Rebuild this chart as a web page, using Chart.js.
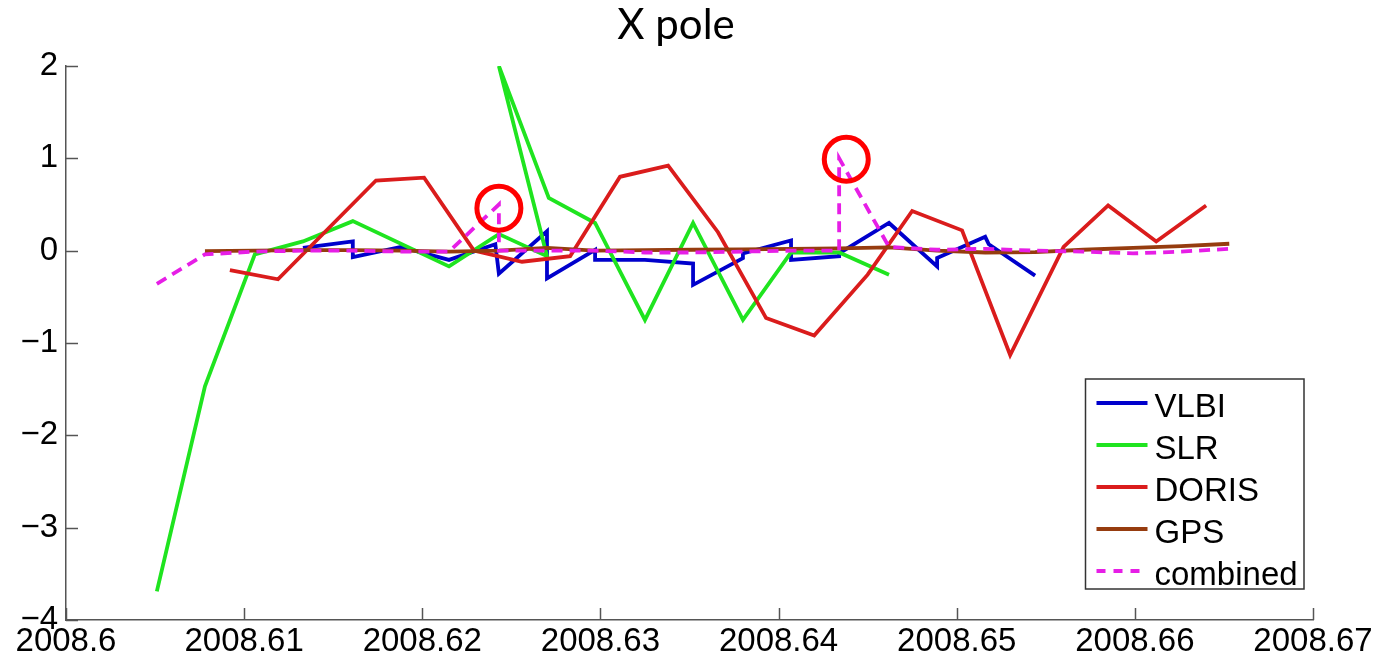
<!DOCTYPE html>
<html>
<head>
<meta charset="utf-8">
<script src="https://cdn.jsdelivr.net/npm/chart.js@4.4.1/dist/chart.umd.min.js"></script>
<style>
  html, body { margin: 0; padding: 0; background: #fff; overflow: hidden; }
</style>
</head>
<body>
<canvas id="c" width="1386" height="663"></canvas>
<script>
// Epochs are decimal years; several techniques deliver two values per day.
const vlbiT = [2008.6133, 2008.6161, 2008.6161, 2008.6188, 2008.6215, 2008.6241, 2008.6243, 2008.6270, 2008.6270,
               2008.6297, 2008.6297, 2008.6325, 2008.6352, 2008.6352, 2008.6380, 2008.6380, 2008.6407, 2008.6407,
               2008.6434, 2008.6434, 2008.6462, 2008.6489, 2008.6489, 2008.6516, 2008.6518, 2008.6544];
const vlbiY = [0.03, 0.10, -0.07, 0.04, -0.10, 0.07, -0.25, 0.21, -0.30,
               0.01, -0.10, -0.10, -0.14, -0.37, -0.08, -0.03, 0.11, -0.10,
               -0.06, -0.03, 0.30, -0.17, -0.08, 0.15, 0.07, -0.27];

const slrT = [2008.6051, 2008.6078, 2008.6106, 2008.6133, 2008.6161, 2008.6215, 2008.6243, 2008.6270, 2008.6243,
              2008.6271, 2008.6297, 2008.6325, 2008.6352, 2008.6380, 2008.6407, 2008.6434, 2008.6462];
const slrY = [-3.69, -1.47, -0.04, 0.10, 0.32, -0.17, 0.18, -0.06, 2.00,
              0.57, 0.30, -0.75, 0.30, -0.75, -0.02, -0.02, -0.26];

const dorisT = [2008.6092, 2008.6119, 2008.6174, 2008.6201, 2008.6229, 2008.6256, 2008.6283, 2008.6311, 2008.6338,
                2008.6366, 2008.6393, 2008.6420, 2008.6450, 2008.6475, 2008.6503, 2008.6530, 2008.6560, 2008.6585,
                2008.6612, 2008.6640];
const dorisY = [-0.21, -0.31, 0.76, 0.79, 0.00, -0.12, -0.06, 0.80, 0.92,
                0.20, -0.73, -0.92, -0.26, 0.43, 0.22, -1.13, 0.04, 0.49,
                0.10, 0.49];

const gpsT = [2008.6078, 2008.6106, 2008.6133, 2008.6161, 2008.6188, 2008.6215, 2008.6243, 2008.6270, 2008.6297,
              2008.6325, 2008.6352, 2008.6380, 2008.6407, 2008.6434, 2008.6462, 2008.6489, 2008.6516, 2008.6544,
              2008.6571, 2008.6599, 2008.6626, 2008.6653];
const gpsY = [-0.005, 0.00, 0.005, 0.005, 0.00, -0.01, 0.00, 0.03, 0.00,
              0.005, 0.01, 0.015, 0.02, 0.025, 0.035, 0.00, -0.02, -0.015,
              0.01, 0.03, 0.05, 0.075];

const combT = [2008.6051, 2008.6078, 2008.6106, 2008.6133, 2008.6161, 2008.6188, 2008.6215, 2008.6243, 2008.6243,
               2008.6270, 2008.6297, 2008.6325, 2008.6352, 2008.6380, 2008.6407, 2008.6434, 2008.6434, 2008.6462,
               2008.6489, 2008.6516, 2008.6544, 2008.6571, 2008.6599, 2008.6626, 2008.6653];
const combY = [-0.36, -0.04, -0.01, 0.00, 0.00, -0.01, -0.01, 0.50, 0.00,
               0.00, 0.00, -0.02, -0.02, -0.01, 0.00, 0.00, 1.00, 0.04,
               0.01, 0.02, 0.00, -0.01, -0.03, -0.01, 0.02];

// Outliers of the combined solution marked with rings
const ringT = [2008.6243, 2008.6438];
const ringY = [0.46, 0.99];

const xTicks = [2008.60, 2008.61, 2008.62, 2008.63, 2008.64, 2008.65, 2008.66, 2008.67];
const yTicks = [-4, -3, -2, -1, 0, 1, 2];

const pts = (t, v) => t.map((x, i) => ({ x, y: v[i] }));

const series = (label, t, v, color, order, dash) => ({
  label, data: pts(t, v), borderColor: color, backgroundColor: color,
  borderWidth: 3.8, pointRadius: 0, tension: 0, order, borderDash: dash || [],
  borderJoinStyle: 'miter'
});

const AXIS = '#555555';
const TICK_FONT = { family: '"Liberation Sans", Arial, Helvetica, sans-serif', size: 33 };

// Ticks point into the plot area
const innerTicks = {
  id: 'innerTicks',
  beforeDatasetsDraw(chart) {
    const { ctx, chartArea: a, scales: { x, y } } = chart;
    ctx.save();
    ctx.strokeStyle = AXIS;
    ctx.lineWidth = 1.5;
    x.ticks.forEach((t, i) => {
      const px = Math.round(x.getPixelForTick(i)) + 0.5;
      ctx.beginPath(); ctx.moveTo(px, a.bottom); ctx.lineTo(px, a.bottom - 12); ctx.stroke();
    });
    y.ticks.forEach((t, i) => {
      const py = Math.round(y.getPixelForTick(i)) + 0.5;
      ctx.beginPath(); ctx.moveTo(a.left, py); ctx.lineTo(a.left + 12, py); ctx.stroke();
    });
    ctx.restore();
  }
};

// Title centred over a span that starts left of the plot area
const titleSpan = {
  id: 'titleSpan',
  afterLayout(chart, args, o) {
    const t = chart.titleBlock;
    if (!t) return;
    t.left = o.left;
    t.right = chart.chartArea.right;
    t.width = t.right - t.left;
  }
};

// Boxed legend in the lower right corner of the plot
const boxLegend = {
  id: 'boxLegend',
  afterDraw(chart, args, o) {
    const { ctx, chartArea: a } = chart;
    const x0 = a.right - o.right - o.width;
    const y0 = a.bottom - o.bottom - o.height;
    ctx.save();
    ctx.fillStyle = '#ffffff';
    ctx.fillRect(x0, y0, o.width, o.height);
    ctx.strokeStyle = '#333333';
    ctx.lineWidth = 1.5;
    ctx.strokeRect(x0, y0, o.width, o.height);
    ctx.font = o.font;
    ctx.textBaseline = 'alphabetic';
    chart.data.datasets.filter(d => !d.noLegend).forEach((d, i) => {
      const ly = y0 + o.first + i * o.step;
      ctx.strokeStyle = d.borderColor;
      ctx.lineWidth = d.borderWidth;
      ctx.setLineDash(d.borderDash.length ? [9, 8] : []);
      ctx.beginPath(); ctx.moveTo(x0 + 11, ly); ctx.lineTo(x0 + 62, ly); ctx.stroke();
      ctx.setLineDash([]);
      ctx.fillStyle = '#000000';
      ctx.fillText(d.label, x0 + 69, ly + 13.5);
    });
    ctx.restore();
  }
};

const fmtY = v => (v < 0 ? '\u2212' + Math.abs(v) : String(v));
const fmtX = v => String(Number(v.toFixed(2)));

new Chart(document.getElementById('c'), {
  type: 'line',
  data: {
    datasets: [
      series('VLBI', vlbiT, vlbiY, '#0000cc', 5),
      series('SLR', slrT, slrY, '#1fe41f', 4),
      series('DORIS', dorisT, dorisY, '#da1c1c', 3),
      series('GPS', gpsT, gpsY, '#963c0f', 2),
      series('combined', combT, combY, '#e61ee6', 1, [11, 7]),
      {
        type: 'scatter', label: 'rings', noLegend: true, data: pts(ringT, ringY),
        showLine: false, pointRadius: 22, pointHoverRadius: 22, pointStyle: 'circle',
        borderColor: '#ff0000', backgroundColor: 'rgba(0,0,0,0)', borderWidth: 5, order: 0
      }
    ]
  },
  options: {
    responsive: false,
    animation: false,
    events: [],
    layout: { padding: { top: 0, right: 73, bottom: 0, left: 0 } },
    scales: {
      x: {
        type: 'linear', min: 2008.6, max: 2008.67,
        afterBuildTicks: s => { s.ticks = xTicks.map(value => ({ value })); },
        afterFit: s => { s.height = 43; },
        grid: { display: false, drawTicks: false },
        border: { display: true, color: AXIS, width: 1.5 },
        ticks: { callback: fmtX, padding: 2, color: '#000', maxRotation: 0, autoSkip: false, font: TICK_FONT }
      },
      y: {
        type: 'linear', min: -4, max: 2,
        afterBuildTicks: s => { s.ticks = yTicks.map(value => ({ value })); },
        afterFit: s => { s.width = 66; },
        grid: { display: false, drawTicks: false },
        border: { display: true, color: AXIS, width: 1.5 },
        ticks: { callback: fmtY, padding: 8, color: '#000', font: TICK_FONT }
      }
    },
    plugins: {
      legend: { display: false },
      tooltip: { enabled: false },
      title: {
        display: true, text: 'X pole', color: '#000',
        font: { family: 'Lato, "Open Sans", sans-serif', size: 42, weight: 'normal', lineHeight: 1.2 },
        padding: { top: 0, bottom: 15.6 }
      },
      titleSpan: { left: 39 },
      boxLegend: {
        width: 218.5, height: 210, right: 9, bottom: 31, first: 24, step: 42,
        font: '33px "Liberation Sans", Arial, sans-serif'
      }
    }
  },
  plugins: [innerTicks, titleSpan, boxLegend]
});
</script>
</body>
</html>
